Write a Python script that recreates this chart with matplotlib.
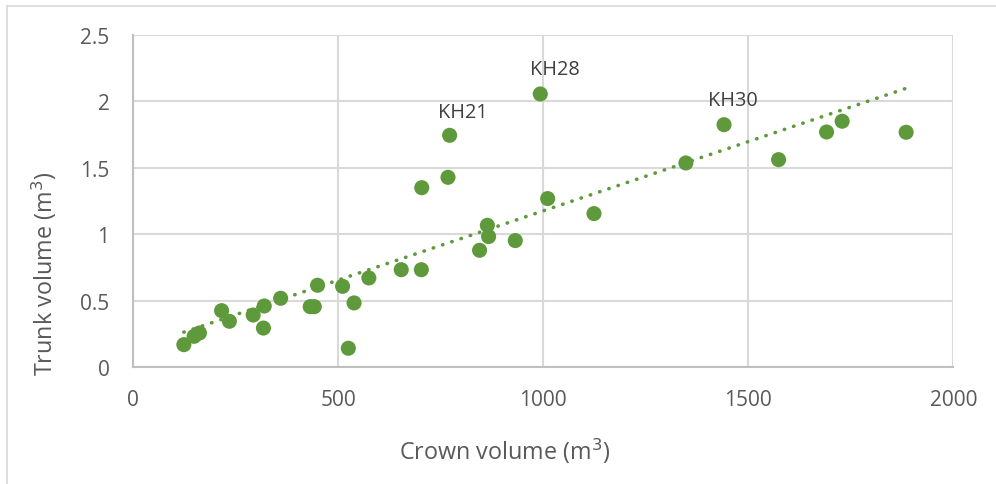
import numpy as np
import matplotlib
matplotlib.use("Agg")
import matplotlib.pyplot as plt
from matplotlib.lines import Line2D

plt.rcParams['font.family'] = ['Open Sans', 'DejaVu Sans']

# Crown volume (m3) and trunk volume (m3) per tree
crown_volume = [124, 149, 162, 216, 235, 293, 320, 318, 360, 432, 442, 450,
                511, 539, 525, 575, 654, 703, 704, 768, 772, 845, 864, 867,
                932, 993, 1011, 1124, 1348, 1441, 1574, 1691, 1729, 1885]
trunk_volume = [0.168, 0.231, 0.256, 0.424, 0.344, 0.391, 0.459, 0.293, 0.517,
                0.454, 0.454, 0.615, 0.607, 0.482, 0.141, 0.670, 0.732, 0.732,
                1.349, 1.427, 1.743, 0.878, 1.066, 0.981, 0.951, 2.054, 1.267,
                1.154, 1.535, 1.823, 1.560, 1.768, 1.849, 1.766]

# Labelled trees: (name, crown volume, trunk volume)
labels = ["KH21", "KH28", "KH30"]
label_x = [772, 993, 1441]
label_y = [1.743, 2.054, 1.823]

x_ticks = [0, 500, 1000, 1500, 2000]
y_ticks = [0, 0.5, 1, 1.5, 2, 2.5]

green = "#5E9A3B"
grid_c = "#D9D9D9"
spine_c = "#BFBFBF"
text_c = "#595959"

fig = plt.figure(figsize=(9.96, 4.85), dpi=100)
W, H = 996, 485
ax = fig.add_axes([133 / W, (H - 368) / H, (953.3 - 133) / W, (368 - 35.7) / H])

ax.set_xlim(0, 2000)
ax.set_ylim(0, 2.5)
ax.set_xticks(x_ticks)
ax.set_yticks(y_ticks)
ax.set_xticklabels([f"{v:g}" for v in x_ticks])
ax.set_yticklabels([f"{v:g}" for v in y_ticks])
ax.grid(True, color=grid_c, linewidth=1.5)
ax.set_axisbelow(True)
for side in ("top", "right"):
    ax.spines[side].set_visible(False)
for side in ("left", "bottom"):
    ax.spines[side].set_color(spine_c)
    ax.spines[side].set_linewidth(1.5)
ax.tick_params(axis="both", length=0, labelsize=15, colors=text_c)
ax.tick_params(axis="x", pad=16)
ax.tick_params(axis="y", pad=17)

# Linear trendline over the range of the data
xs = np.array(crown_volume, dtype=float)
ys = np.array(trunk_volume, dtype=float)
slope, intercept = np.polyfit(xs, ys, 1)
xline = np.array([xs.min(), xs.max()])
ax.plot(xline, slope * xline + intercept, color=green, linewidth=2.6,
        linestyle=(0, (0.1, 2.6)), dash_capstyle="round", zorder=2)

ax.scatter(xs, ys, s=118, color=green, edgecolors="none", zorder=3, clip_on=False)

offsets = [(13, 23), (15, 25), (9, 25)]
for name, lx, ly, off in zip(labels, label_x, label_y, offsets):
    ax.annotate(name, (lx, ly), xytext=off, textcoords="offset pixels",
                ha="center", va="center", fontsize=14.3, color="#404040")

ax.set_xlabel("Crown volume (m$^3$)", fontsize=16.8, color=text_c, va="center")
ax.set_ylabel("Trunk volume (m$^3$)", fontsize=16.8, color=text_c, va="center")
ax.xaxis.set_label_coords((505 - 133) / 820.3, (368 - 451) / 332.3)
ax.yaxis.set_label_coords((44 - 133) / 820.3, (368 - 274) / 332.3)

# Chart area frame
fig.add_artist(Line2D([7 / W, 7 / W], [0, 1 - 7 / H], transform=fig.transFigure,
                      color="#D9D9D9", linewidth=1.2))
fig.add_artist(Line2D([7 / W, 1], [1 - 7 / H, 1 - 7 / H], transform=fig.transFigure,
                      color="#D9D9D9", linewidth=1.2))

fig.savefig("out.png", dpi=100)
